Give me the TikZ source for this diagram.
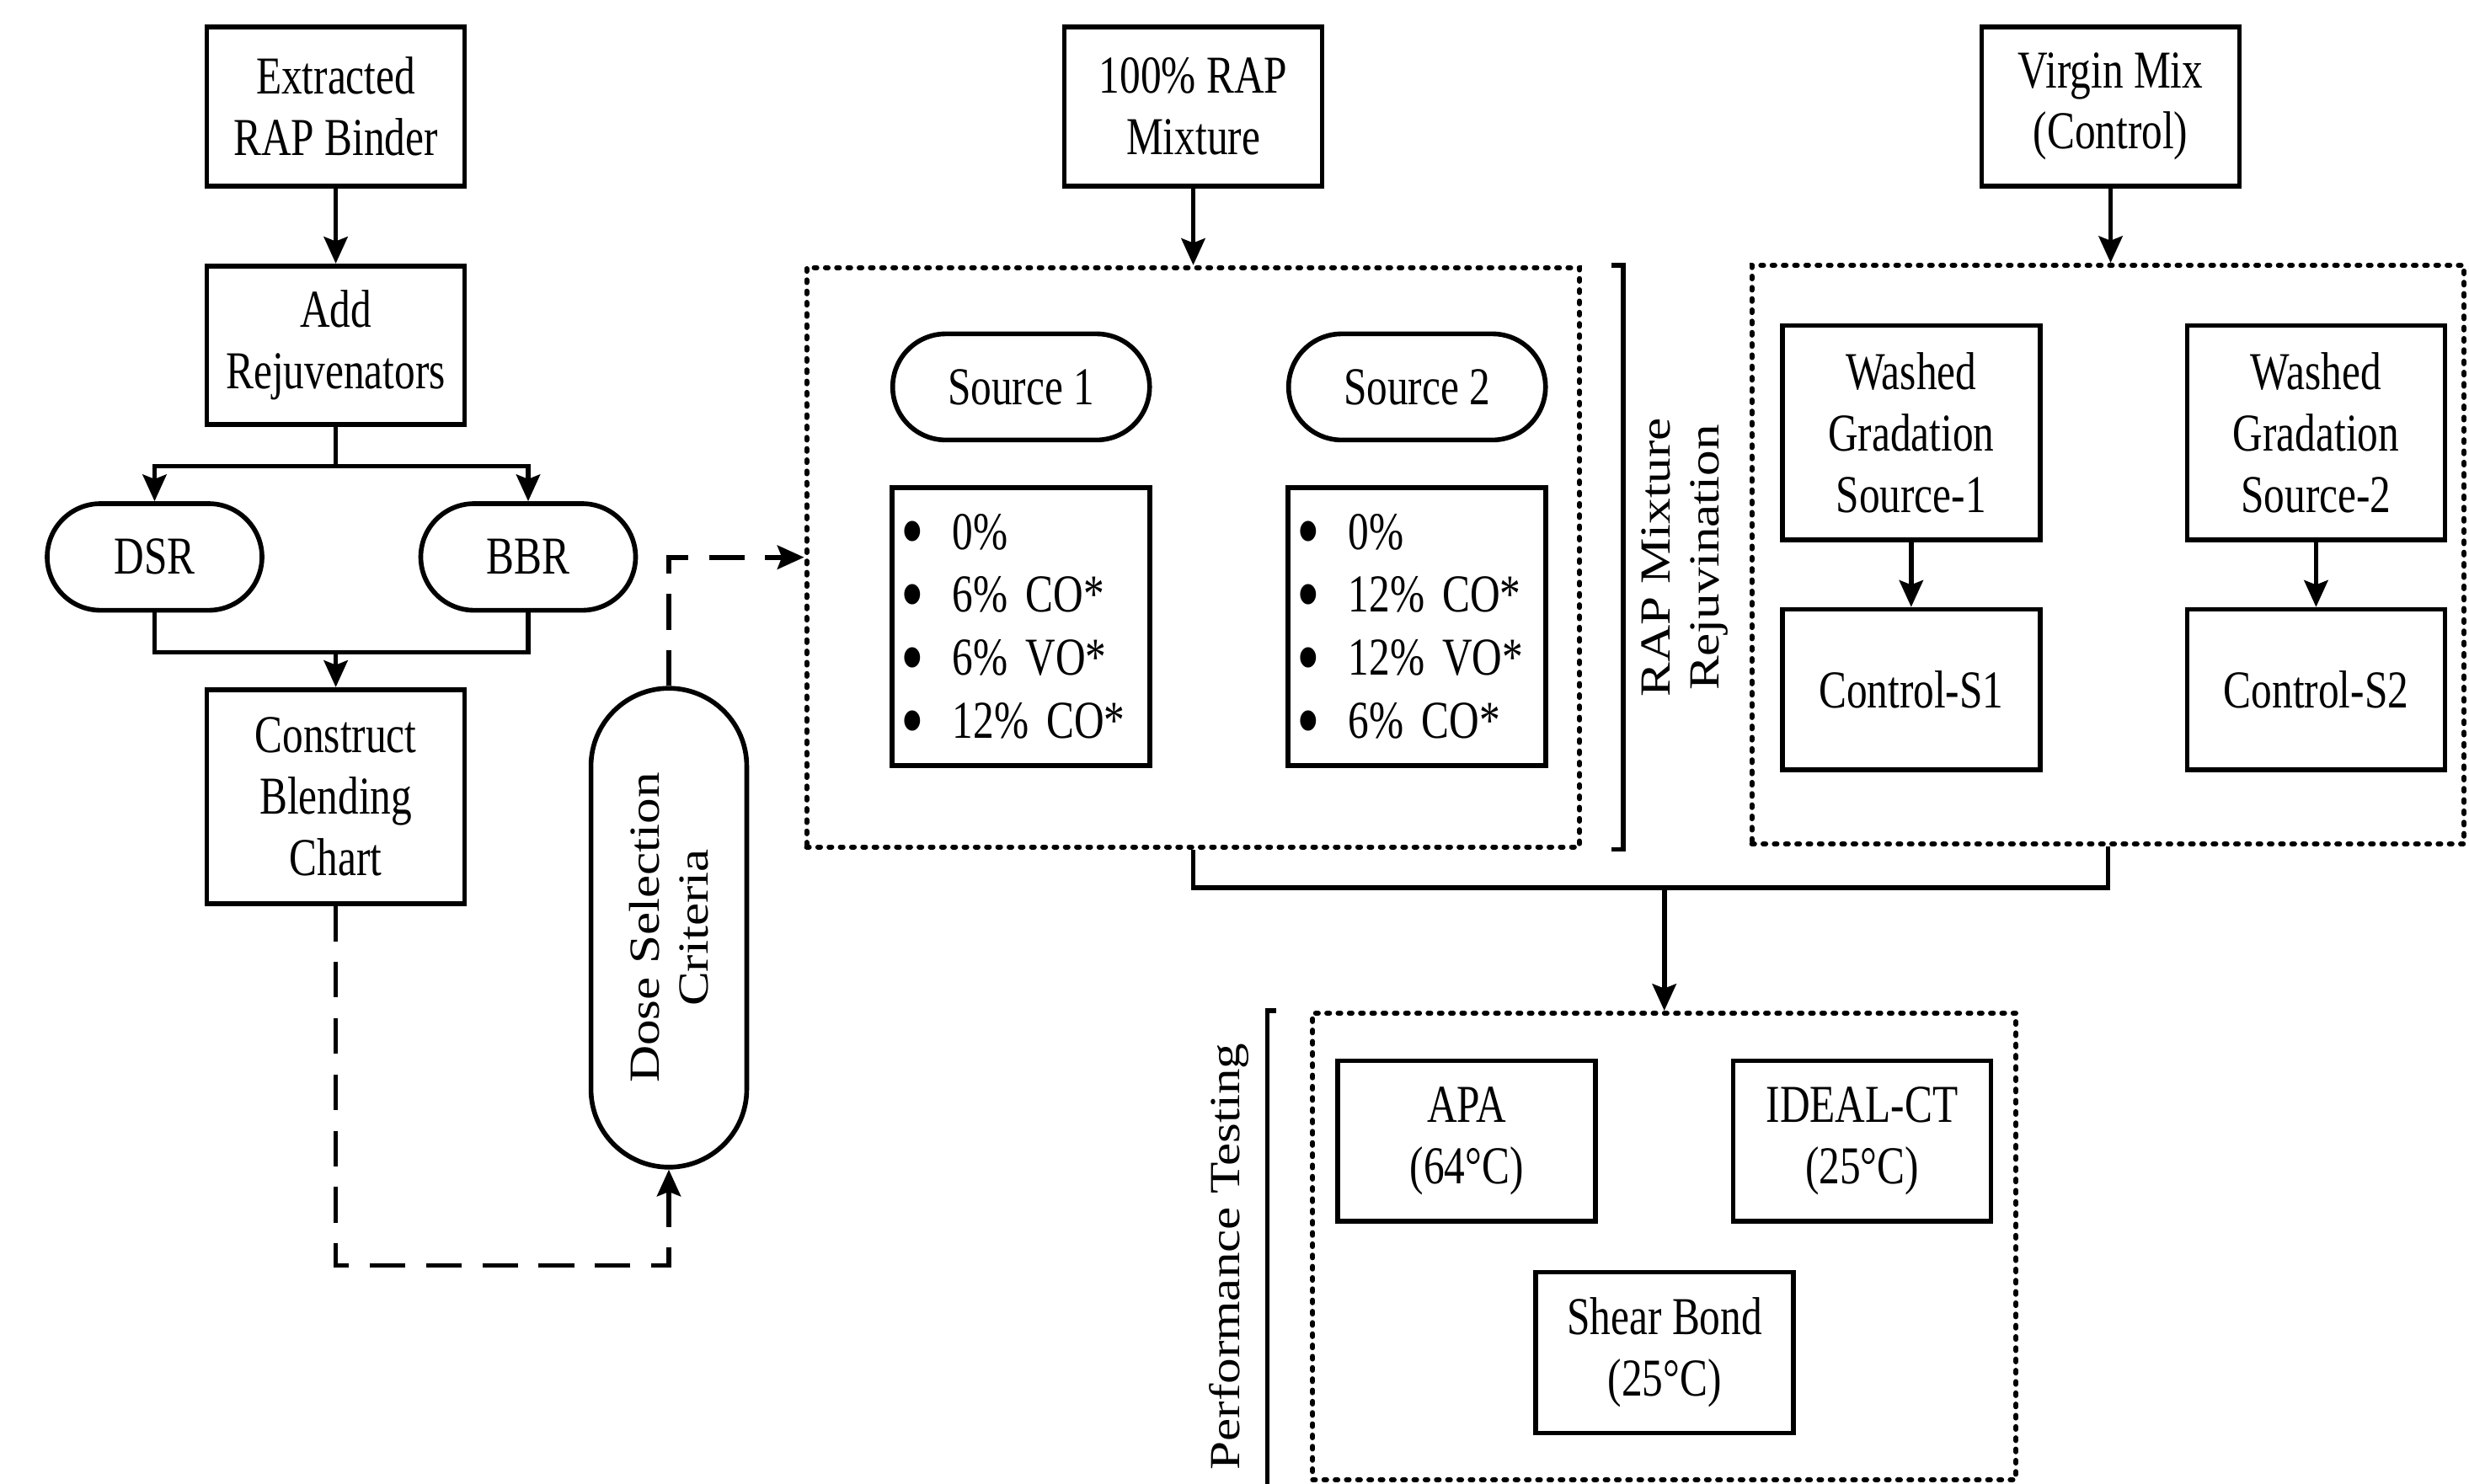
\documentclass[tikz,border=0pt]{standalone}
\usepackage{fontspec}
\setmainfont{Liberation Serif}[FakeStretch=0.78]
\newfontfamily\rotfont{Liberation Serif}[FakeStretch=1.2]
\usetikzlibrary{arrows.meta,shapes.misc}
\newcommand{\lstitem}[1]{\makebox[0.61cm][l]{\smash{\raisebox{-0.2em}{\scalebox{1.6}{\textbullet}}}}#1}

\begin{document}
\begin{tikzpicture}[line width=1.6pt, font=\fontsize{18}{20.7}\selectfont,
    box/.style={draw, rectangle, minimum width=3.06cm, align=center, inner sep=0pt},
    pill/.style={draw, rounded rectangle, align=center, inner sep=0pt},
    dotbox/.style={draw, rectangle, dash pattern=on 0.9pt off 2.9pt, line cap=round, line width=1.7pt, inner sep=0pt},
    lstbox/.style={box, text width=2.85cm, align=left, inner xsep=0.1cm, minimum height=3.3cm,
        font=\fontsize{18}{21.3}\selectfont},
    arr/.style={-{Stealth[length=9pt, width=8pt, inset=1.5pt]}},
    dashln/.style={dash pattern=on 12pt off 7pt},
    rot/.style={rotate=90, align=center, font=\rotfont\fontsize{14.5}{16.6}\selectfont}]
    \useasboundingbox (0,0) rectangle (29.31,-17.61);

    % --- Part 1: binder, blending chart and dose selection ---
    \node[box, minimum height=1.89cm] (ext) at (3.986,-1.263) {Extracted\\RAP Binder};
    \node[box, minimum height=1.88cm] (add) at (3.986,-4.097) {Add\\Rejuvenators};
    \node[pill, minimum width=2.55cm, minimum height=1.266cm] (dsr) at (1.835,-6.613) {DSR};
    \node[pill, minimum width=2.55cm, minimum height=1.266cm] (bbr) at (6.27,-6.613) {BBR};
    \node[box, minimum height=2.54cm] (chart) at (3.986,-9.457) {Construct\\Blending\\Chart};
    \node[pill, rot, minimum width=5.686cm, minimum height=1.849cm] (dose) at (7.94,-11.015) {Dose Selection\\Criteria};
    \draw[arr] (ext) -- (add);
    \draw[arr] (add.south) -- ++(0,-0.47) -| (dsr.north);
    \draw[arr] (add.south) -- ++(0,-0.47) -| (bbr.north);
    \draw (dsr.south) -- ++(0,-0.47) coordinate (dsrb) -| (bbr.south);
    \draw[arr] (dsrb -| chart.north) -- (chart.north);
    \draw[dashln, arr] (chart.south) -- ++(0,-4.27) -| (dose.west);

    % --- Part 2: 100% RAP mixture with rejuvenator doses ---
    \node[box, minimum height=1.89cm] (rap) at (14.165,-1.263) {100\% RAP\\Mixture};
    \node[dotbox, minimum width=9.176cm, minimum height=6.878cm] (mix) at (14.163,-6.617) {};
    \node[pill, minimum width=3.05cm, minimum height=1.26cm] (src1) at (12.122,-4.594) {Source 1};
    \node[pill, minimum width=3.05cm, minimum height=1.26cm] (src2) at (16.822,-4.594) {Source 2};
    \node[lstbox] (doses1) at (12.122,-7.438) {\lstitem{0\%}\\\lstitem{6\% CO*}\\\lstitem{6\% VO*}\\\lstitem{12\% CO*}};
    \node[lstbox] (doses2) at (16.822,-7.438) {\lstitem{0\%}\\\lstitem{12\% CO*}\\\lstitem{12\% VO*}\\\lstitem{6\% CO*}};
    \draw[arr] (rap.south) -- (rap.south |- mix.north);
    \draw[dashln, arr] (dose.east) |- (mix.west);
    \draw ([xshift=0.35cm]mix.north east) -- ([xshift=0.49cm]mix.north east)
        -- ([xshift=0.49cm]mix.south east) -- ([xshift=0.35cm]mix.south east);
    \node[rot] (mixlbl) at (20.0,-6.62) {RAP Mixture\\Rejuvination};

    % --- Part 3: virgin mix (control) ---
    \node[box, minimum height=1.89cm] (virgin) at (25.055,-1.263) {Virgin Mix\\(Control)};
    \node[dotbox, minimum width=8.454cm, minimum height=6.87cm] (ctl) at (25.023,-6.586) {};
    \node[box, minimum height=2.545cm] (wash1) at (22.688,-5.139) {Washed\\Gradation\\Source-1};
    \node[box, minimum height=2.545cm] (wash2) at (27.494,-5.139) {Washed\\Gradation\\Source-2};
    \node[box, minimum height=1.905cm] (cs1) at (22.688,-8.188) {Control-S1};
    \node[box, minimum height=1.905cm] (cs2) at (27.494,-8.188) {Control-S2};
    \draw[arr] (virgin.south) -- (virgin.south |- ctl.north);
    \draw[arr] (wash1) -- (cs1);
    \draw[arr] (wash2) -- (cs2);

    % --- Part 4: performance testing ---
    \node[dotbox, minimum width=8.348cm, minimum height=5.54cm] (perf) at (19.757,-14.8) {};
    \node[box, minimum height=1.903cm] (apa) at (17.411,-13.548) {APA\\(64°C)};
    \node[box, minimum height=1.903cm] (ideal) at (22.104,-13.548) {IDEAL-CT\\(25°C)};
    \node[box, minimum height=1.908cm] (shear) at (19.761,-16.059) {Shear Bond\\(25°C)};
    \draw (mix.south) -- ++(0,-0.454) coordinate (mixb) -| (ctl.south);
    \draw[arr] (mixb -| perf.north) -- (perf.north);
    \draw ([xshift=-0.4cm]perf.north west) -- ([xshift=-0.51cm]perf.north west)
        -- ([xshift=-0.51cm, yshift=-0.1cm]perf.south west);
    \node[rot] (perflbl) at (14.59,-14.92) {Performance Testing};
\end{tikzpicture}
\end{document}
